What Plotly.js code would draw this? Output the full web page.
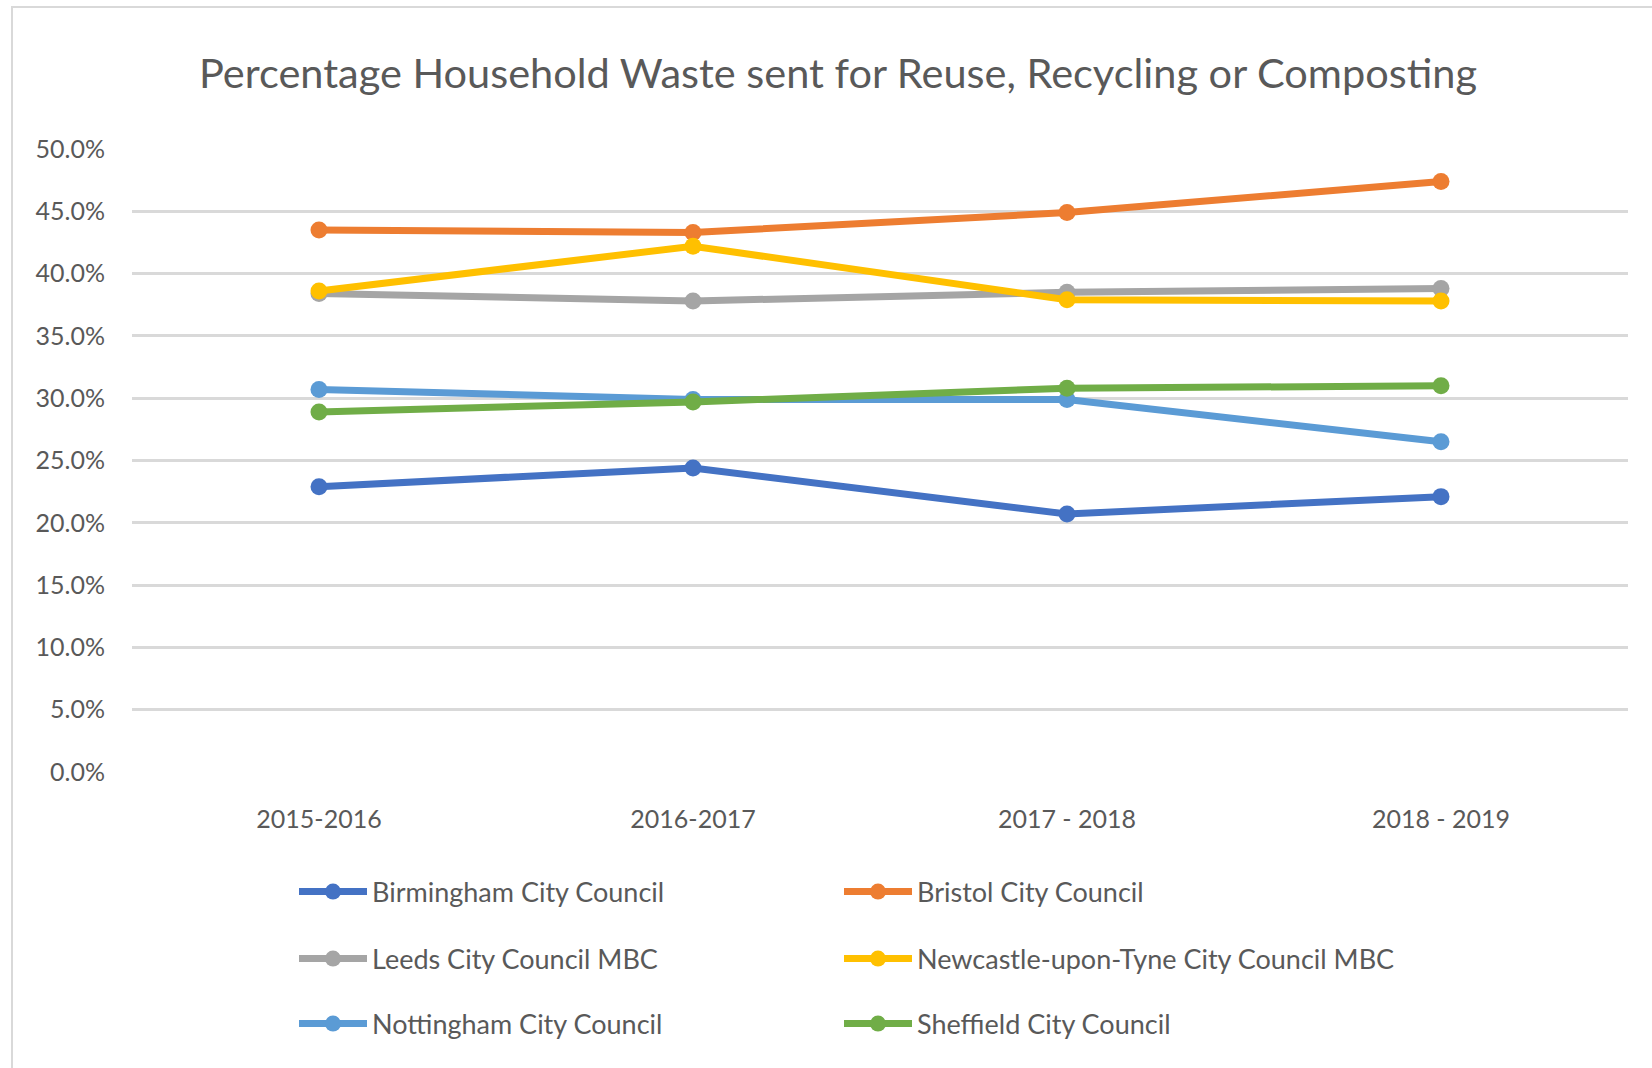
<!DOCTYPE html>
<html>
<head>
<meta charset="utf-8">
<script src="https://cdn.plot.ly/plotly-3.0.1.min.js"></script>
<style>
  html, body { margin: 0; padding: 0; background: #ffffff; }
  #frame { position: absolute; left: 11px; top: 6px; width: 1700px; height: 1100px; border: 2px solid #d9d9d9; box-sizing: border-box; }
  #chart { position: absolute; left: 0; top: 0; width: 1652px; height: 1068px; }
</style>
</head>
<body>
<div id="frame"></div>
<div id="chart"></div>
<script>
const years = ["2015-2016", "2016-2017", "2017 - 2018", "2018 - 2019"];
const seriesNames = [
  "Birmingham City Council",
  "Bristol City Council",
  "Leeds City Council MBC",
  "Newcastle-upon-Tyne City Council MBC",
  "Nottingham City Council",
  "Sheffield City Council"
];
const birmingham = [0.229, 0.244, 0.207, 0.221];
const bristol    = [0.435, 0.433, 0.449, 0.474];
const leeds      = [0.384, 0.378, 0.385, 0.388];
const newcastle  = [0.386, 0.422, 0.379, 0.378];
const nottingham = [0.307, 0.299, 0.299, 0.265];
const sheffield  = [0.289, 0.297, 0.308, 0.310];
const yTicks = [0, 0.05, 0.10, 0.15, 0.20, 0.25, 0.30, 0.35, 0.40, 0.45, 0.50];

const seriesValues = [birmingham, bristol, leeds, newcastle, nottingham, sheffield];
const colors = ["#4472C4", "#ED7D31", "#A5A5A5", "#FFC000", "#5B9BD5", "#70AD47"];
const legendIds = ["legend", "legend", "legend2", "legend2", "legend3", "legend3"];
const FONT = "Lato, 'Open Sans', sans-serif";
const TXT = "#595959";

const traces = seriesValues.map((vals, i) => {
  const t = {
    type: "scatter",
    mode: "lines+markers",
    x: years,
    y: vals,
    name: seriesNames[i],
    legend: legendIds[i],
    line: { color: colors[i], width: 7 },
    marker: { color: colors[i], size: 17 },
    hoverinfo: "x+y+name"
  };
  if (i % 2 === 0) t.legendwidth = 462;
  return t;
});

function legendAt(yPix) {
  return {
    orientation: "h",
    xref: "container", yref: "container",
    x: 294 / 1652, y: 1 - yPix / 1068,
    xanchor: "left", yanchor: "middle",
    itemwidth: 68,
    font: { family: FONT, size: 27, color: TXT },
    bgcolor: "rgba(0,0,0,0)"
  };
}

const layout = {
  width: 1652, height: 1068,
  paper_bgcolor: "rgba(0,0,0,0)",
  plot_bgcolor: "rgba(0,0,0,0)",
  margin: { l: 132, r: 24, t: 149, b: 296 },
  font: { family: FONT, color: TXT, size: 25 },
  title: {
    text: "Percentage Household Waste sent for Reuse, Recycling or Composting",
    font: { family: FONT, size: 41.5, color: TXT },
    x: 838 / 1652, xanchor: "center", xref: "container",
    y: 1 - 73 / 1068, yanchor: "middle", yref: "container"
  },
  xaxis: {
    type: "category",
    range: [-0.5, 3.5],
    showgrid: false, zeroline: false, showline: false,
    ticks: "", ticklabelstandoff: 30,
    tickfont: { family: FONT, size: 25, color: TXT }
  },
  yaxis: {
    range: [0, 0.5],
    tickvals: yTicks,
    tickformat: ".1%",
    showgrid: true, gridcolor: "#d9d9d9", gridwidth: 3,
    zeroline: false, showline: false,
    ticks: "", ticklabelstandoff: 26,
    tickfont: { family: FONT, size: 25, color: TXT }
  },
  showlegend: true,
  legend: legendAt(892),
  legend2: legendAt(959),
  legend3: legendAt(1024)
};

Plotly.newPlot("chart", traces, layout, { displayModeBar: false, staticPlot: true });
</script>
</body>
</html>
